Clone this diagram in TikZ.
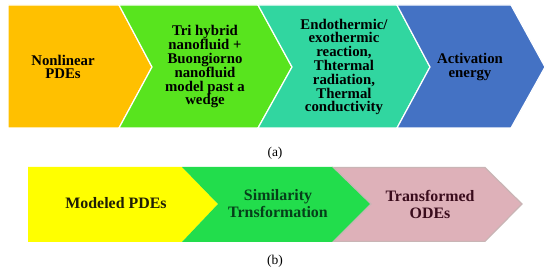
\documentclass[tikz,border=0pt]{standalone}
\usepackage{fontspec}
\setmainfont{Liberation Serif}
\definecolor{corange}{HTML}{FFC000}
\definecolor{cgreen}{HTML}{58E41E}
\definecolor{cteal}{HTML}{31D6A0}
\definecolor{cblue}{HTML}{4472C4}
\definecolor{cyel}{HTML}{FFFF00}
\definecolor{cgreenb}{HTML}{22DD4C}
\definecolor{cpink}{HTML}{DEB1B9}
\definecolor{cpinkedge}{HTML}{C9B5B5}
\definecolor{tgreen}{HTML}{063F1A}
\definecolor{tmaroon}{HTML}{3A0C1C}
\definecolor{tdark}{HTML}{1E1E06}
\tikzset{
  chev/.style={draw=white,line width=1.2pt,line join=miter},
  toptxt/.style={align=center,font=\bfseries\fontsize{14.8}{13.8}\selectfont,text=black,inner sep=0pt},
  bottxt/.style={align=center,font=\bfseries\fontsize{15.9}{17}\selectfont,inner sep=0pt},
  captxt/.style={font=\fontsize{13.5}{15}\selectfont,inner sep=0pt}
}
\begin{document}
\begin{tikzpicture}[x=1pt,y=-1pt]
\useasboundingbox[fill=white] (0,0) rectangle (550,272);
% top row
\fill[corange,chev] (8,5) -- (119,5) -- (152,67) -- (119,128) -- (8,128) -- cycle;
\fill[cgreen,chev] (119,5) -- (258,5) -- (292,67) -- (258,128) -- (119,128) -- (152,67) -- cycle;
\fill[cteal,chev] (258,5) -- (397,5) -- (430,67) -- (397,128) -- (258,128) -- (292,67) -- cycle;
\fill[cblue,chev] (397,5) -- (511,5) -- (545,67) -- (511,128) -- (397,128) -- (430,67) -- cycle;
\node[toptxt] (t1) at (63,67) {Nonlinear\\PDEs};
\node[toptxt] (t2) at (205,67) {Tri hybrid\\nanofluid +\\Buongiorno\\nanofluid\\model past a\\wedge};
\node[toptxt] (t3) at (344,67) {Endothermic/\\exothermic\\reaction,\\Thtermal\\radiation,\\Thermal\\conductivity};
\node[toptxt] (t4) at (470,67) {Activation\\energy};
\node[captxt] (capa) at (275,153) {(a)};
% bottom row
\fill[cyel] (28,167) -- (182,167) -- (218,204) -- (182,242) -- (28,242) -- cycle;
\fill[cgreenb] (182,167) -- (333,167) -- (372,204) -- (333,242) -- (182,242) -- (218,204) -- cycle;
\filldraw[fill=cpink,draw=cpinkedge,line width=1.2pt] (333.6,167.6) -- (485,167.6) -- (522,204) -- (485,241.4) -- (333.6,241.4) -- (371,204) -- cycle;
\node[bottxt,text=tdark] (b1) at (116,203) {Modeled PDEs};
\node[bottxt,text=tgreen] (b2) at (278,204) {Similarity\\Trnsformation};
\node[bottxt,text=tmaroon] (b3) at (430,204) {Transformed\\ODEs};
\node[captxt] (capb) at (275,261) {(b)};
\end{tikzpicture}
\end{document}
